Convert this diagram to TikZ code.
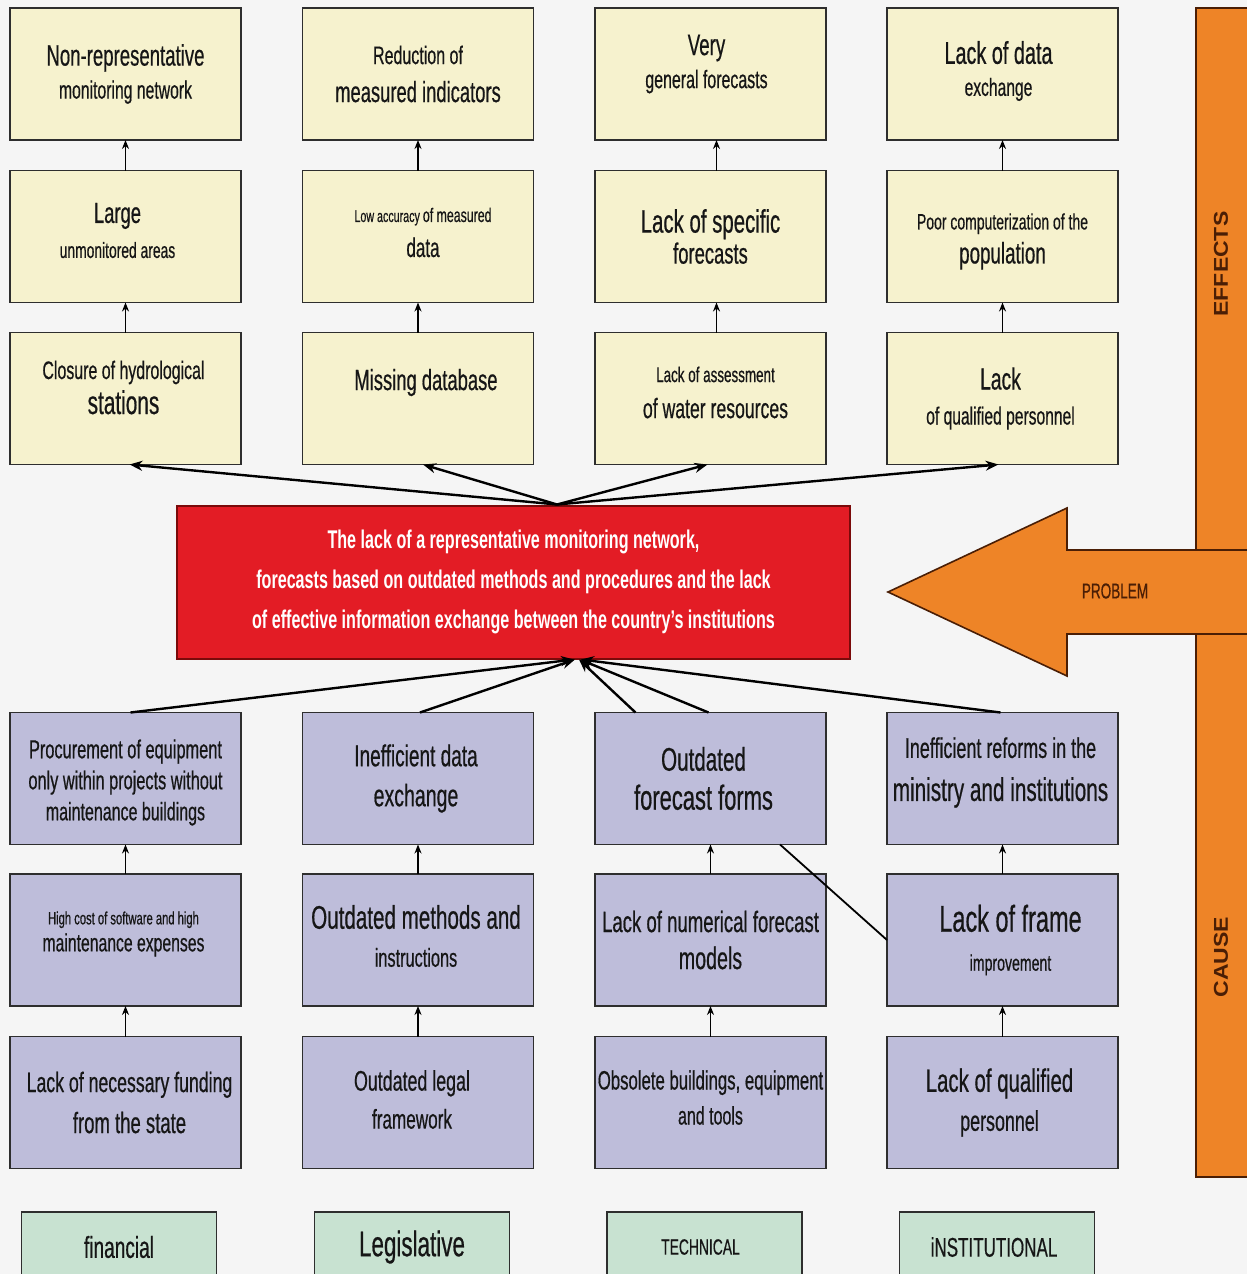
\documentclass[tikz,border=0pt]{standalone}
\usepackage{fontspec}
\setmainfont{Liberation Sans}[FakeStretch=0.63, UprightFeatures={FakeBold=0.5}]
\newfontfamily\widesf{Liberation Sans}[FakeStretch=1.15]
\usetikzlibrary{arrows.meta}

\definecolor{bgcol}{HTML}{F5F5F5}
\definecolor{effill}{HTML}{F6F2CE}
\definecolor{causefill}{HTML}{BEBDDA}
\definecolor{probred}{HTML}{E31C25}
\definecolor{probedge}{HTML}{7A0A0A}
\definecolor{orng}{HTML}{EE8427}
\definecolor{brn}{HTML}{4A1E05}
\definecolor{grn}{HTML}{C8E2D1}
\definecolor{edgecol}{HTML}{2E2E2E}
\definecolor{inkcol}{HTML}{161616}

% font size for one line of text
\newcommand\fs[1]{\fontsize{#1pt}{#1pt}\selectfont}
% a box with its text: style, name, position, text offset, line pitch, text
\newcommand\cellnode[6]{%
  \node[#1] (#2) at (#3) {};
  \node[celltext, font=\fontsize{10pt}{#5pt}\selectfont] (#2-t)
    at ([#4]#2.center) {#6};}

\tikzset{
  cellbox/.style={draw=edgecol, line width=1.6pt, minimum width=231pt,
    minimum height=132pt, inner sep=0pt, outer sep=0pt},
  effbox/.style={cellbox, fill=effill},
  causebox/.style={cellbox, fill=causefill},
  celltext/.style={align=center, text=inkcol, inner sep=0pt},
  catbox/.style={draw=edgecol, line width=1.6pt, fill=grn, minimum width=195pt,
    minimum height=70pt, inner sep=0pt, text=inkcol},
  fan/.style={line width=2.4pt, -{Stealth[length=13pt,width=10pt]}},
  upar/.style={line width=1.8pt, -{Stealth[length=9pt,width=7pt]}},
  plainlink/.style={line width=1.8pt},
  sidetext/.style={text=brn, font=\widesf\bfseries\fs{20}},
}

\begin{document}
\begin{tikzpicture}[x=1pt,y=-1pt]
\useasboundingbox (0,0) rectangle (1247,1274);
\fill[bgcol] (0,0) rectangle (1247,1274);

% ---------- right-hand orange band and the PROBLEM arrow ----------
\path[fill=orng, draw=brn, line width=1.6pt]
  (1247,8) -- (1196,8) -- (1196,1177) -- (1247,1177);
\path[fill=orng, draw=brn, line width=1.6pt]
  (1247,550) -- (1067,550) -- (1067,508) -- (888,592) -- (1067,676)
  -- (1067,634) -- (1247,634);
\node[sidetext, rotate=90] (effects) at (1221,264) {EFFECTS};
\node[sidetext, rotate=90] (cause) at (1221,957) {CAUSE};
\node[text=brn, font=\fs{21.5}] (problem) at (1115,591) {PROBLEM};

% ---------- effects ----------
\cellnode{effbox}{e11}{125.5,74}{yshift=0pt}{33}{\fs{29.5}Non-representative\\\fs{25}monitoring network}
\cellnode{effbox}{e12}{418,74}{yshift=0pt}{38}{\fs{25.4}Reduction of\\\fs{29.2}measured indicators}
\cellnode{effbox}{e13}{710.5,74}{xshift=-4pt,yshift=10pt}{33}{\fs{29.8}Very\\\fs{25.3}general forecasts}
\cellnode{effbox}{e14}{1002.5,74}{xshift=-4pt,yshift=3pt}{32}{\fs{31.5}Lack of data\\\fs{24.8}exchange}

\cellnode{effbox}{e21}{125.5,236.5}{xshift=-8pt,yshift=6pt}{35}{\fs{29.2}Large\\\fs{22}unmonitored areas}
\cellnode{effbox}{e22}{418,236.5}{xshift=5pt,yshift=4pt}{35}{{\fs{17}Low accuracy }{\fs{19.6}of measured}\\\fs{27}data}
\cellnode{effbox}{e23}{710.5,236.5}{yshift=0pt}{31}{\fs{32.4}Lack of specific\\\fs{29.2}forecasts}
\cellnode{effbox}{e24}{1002.5,236.5}{yshift=-5pt}{34}{\fs{22.2}Poor computerization of the\\\fs{29.8}population}

\cellnode{effbox}{e31}{125.5,398.5}{xshift=-2pt,yshift=11pt}{35}{\fs{25.3}Closure of hydrological\\\fs{33}stations}
\cellnode{effbox}{e32}{418,398.5}{xshift=8pt,yshift=16pt}{35}{\fs{29.2}Missing database}
\cellnode{effbox}{e33}{710.5,398.5}{xshift=5pt,yshift=6pt}{36}{\fs{21.3}Lack of assessment\\\fs{28}of water resources}
\cellnode{effbox}{e34}{1002.5,398.5}{xshift=-2pt}{35}{\fs{30.6}Lack\\\fs{24.8}of qualified personnel}

% ---------- central problem ----------
\node[draw=probedge, line width=2pt, fill=probred, minimum width=673pt,
  minimum height=153pt, inner sep=0pt, text=white, align=center,
  font=\bfseries\fontsize{25.6pt}{40pt}\selectfont] (red) at (513.5,582)
  {The lack of a representative monitoring network,\\
   forecasts based on outdated methods and procedures and the lack\\
   of effective information exchange between the country's institutions};
\coordinate (apexTop) at ([xshift=43.5pt]red.north);
\coordinate (apexBot) at ([xshift=63.5pt]red.south);

% ---------- causes ----------
\cellnode{causebox}{c11}{125.5,778.5}{yshift=-4pt}{31}{\fs{26}Procurement of equipment\\\fs{25.9}only within projects without\\\fs{25.4}maintenance buildings}
\cellnode{causebox}{c12}{418,778.5}{xshift=-2pt}{40}{\fs{30.2}Inefficient data\\\fs{31}exchange}
\cellnode{causebox}{c13}{710.5,778.5}{xshift=-7pt}{39}{\fs{32.7}Outdated\\\fs{34.8}forecast forms}
\cellnode{causebox}{c14}{1002.5,778.5}{xshift=-2pt,yshift=6pt}{43}{\fs{28.5}Inefficient reforms in the\\\fs{32.9}ministry and institutions}

\cellnode{causebox}{c21}{125.5,940}{xshift=-2pt,yshift=6pt}{27}{\fs{17.8}High cost of software and high\\\fs{25}maintenance expenses}
\cellnode{causebox}{c22}{418,940}{xshift=-2pt,yshift=4pt}{38}{\fs{32.7}Outdated methods and\\\fs{25.9}instructions}
\cellnode{causebox}{c23}{710.5,940}{yshift=0pt}{37}{\fs{29.5}Lack of numerical forecast\\\fs{31.2}models}
\cellnode{causebox}{c24}{1002.5,940}{xshift=8pt}{39}{\fs{37.3}Lack of frame\\\fs{22.4}improvement}

\cellnode{causebox}{c31}{125.5,1102.5}{xshift=4pt}{41}{\fs{28.1}Lack of necessary funding\\\fs{29.4}from the state}
\cellnode{causebox}{c32}{418,1102.5}{xshift=-6pt,yshift=3pt}{38}{\fs{28.3}Outdated legal\\\fs{27.2}framework}
\cellnode{causebox}{c33}{710.5,1102.5}{yshift=5pt}{35}{\fs{26.6}Obsolete buildings, equipment\\\fs{25.4}and tools}
\cellnode{causebox}{c34}{1002.5,1102.5}{xshift=-3pt}{39}{\fs{32.4}Lack of qualified\\\fs{28.4}personnel}

% ---------- category labels ----------
\node[catbox] (lfin) at (119,1247) {\fs{30.3}financial};
\node[catbox] (lleg) at (412,1247) {\fs{35.6}Legislative};
\node[catbox] (ltec) at (704.5,1247) {\fs{22}TECHNICAL\hspace*{8pt}};
\node[catbox] (lins) at (997,1247) {\fs{27}iNSTITUTIONAL\hspace*{6pt}};

% ---------- connectors: effects chains ----------
\draw[upar] (e21.north) -- (e11.south);
\draw[upar] (e31.north) -- (e21.south);
\draw[upar] (e22.north) -- (e12.south);
\draw[upar] (e32.north) -- (e22.south);
\draw[upar] ([xshift=6pt]e23.north) -- ([xshift=6pt]e13.south);
\draw[upar] ([xshift=6pt]e33.north) -- ([xshift=6pt]e23.south);
\draw[upar] (e24.north) -- (e14.south);
\draw[upar] (e34.north) -- (e24.south);

% ---------- connectors: problem to effects ----------
\draw[fan] (apexTop) -- ([xshift=4pt]e31.south);
\draw[fan] (apexTop) -- ([xshift=5pt]e32.south);
\draw[fan] (apexTop) -- ([xshift=-3pt]e33.south);
\draw[fan] (apexTop) -- ([xshift=-4pt]e34.south);

% ---------- connectors: causes chains ----------
\draw[upar] (c21.north) -- (c11.south);
\draw[upar] (c31.north) -- (c21.south);
\draw[upar] (c22.north) -- (c12.south);
\draw[upar] (c32.north) -- (c22.south);
\draw[upar] (c23.north) -- (c13.south);
\draw[upar] (c33.north) -- (c23.south);
\draw[upar] (c24.north) -- (c14.south);
\draw[upar] (c34.north) -- (c24.south);
\draw[plainlink] ([xshift=69.5pt]c13.south) -- (c24.west);

% ---------- connectors: causes to problem ----------
\draw[fan] ([xshift=5pt]c11.north) -- ([xshift=-3pt]apexBot);
\draw[fan] ([xshift=2pt]c12.north) -- ([xshift=-2pt]apexBot);
\draw[fan] ([xshift=-75pt]c13.north) -- ([xshift=2pt]apexBot);
\draw[fan] ([xshift=-2pt]c13.north) -- ([xshift=3pt]apexBot);
\draw[fan] ([xshift=-2pt]c14.north) -- ([xshift=4pt]apexBot);
\end{tikzpicture}
\end{document}
